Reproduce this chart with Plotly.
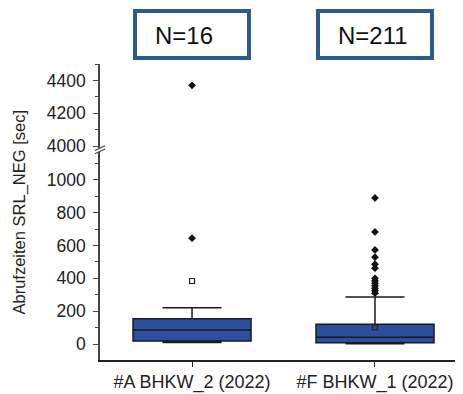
import plotly.graph_objects as go

categories = ["#A BHKW_2 (2022)", "#F BHKW_1 (2022)"]
counts = ["N=16", "N=211"]
q1 = [18, 8]
median = [85, 41]
q3 = [154, 120]
lower_whisker = [10, 2]
upper_whisker = [221, 287]
means = [384, 102]
outliers_a_low = [645]
outliers_a_high = [4370]
outliers_f = [890, 683, 573, 529, 486, 462, 400, 385, 370, 355, 340, 325, 310]

BLUE = "#2B4E9E"
FRAME = "#2F5B8A"
FONT = "Liberation Sans, Arial, sans-serif"

fig = go.Figure()
fig.add_trace(go.Box(
    x=categories, q1=q1, median=median, q3=q3,
    lowerfence=lower_whisker, upperfence=upper_whisker,
    fillcolor=BLUE, line=dict(color="#1a1a1a", width=1.5),
    whiskerwidth=0.5, width=0.645, boxpoints=False, showlegend=False,
    hoverinfo="skip",
))
fig.add_trace(go.Scatter(
    x=[categories[0]] * len(outliers_a_low) + [categories[1]] * len(outliers_f),
    y=outliers_a_low + outliers_f, mode="markers",
    marker=dict(symbol="diamond", size=6, color="#111"), showlegend=False,
))
fig.add_trace(go.Scatter(
    x=categories, y=means, mode="markers",
    marker=dict(symbol="square-open", size=5, color="#222", line=dict(width=1.2)),
    showlegend=False,
))
fig.add_trace(go.Scatter(
    x=[categories[0]] * len(outliers_a_high), y=outliers_a_high, mode="markers",
    marker=dict(symbol="diamond", size=6, color="#111"), yaxis="y2", showlegend=False,
))

for cat, txt in zip(categories, counts):
    fig.add_annotation(
        x=cat, xref="x", y=1.101, yref="paper", yanchor="middle",
        text=" ", showarrow=False, font=dict(size=24, color="#111", family=FONT),
        width=110, height=43, bordercolor=FRAME, borderwidth=4, borderpad=0,
        bgcolor="white",
    )
    fig.add_annotation(
        x=cat, xref="x", y=1.096, yref="paper", yanchor="middle", xanchor="left",
        xshift=-39, text=txt, showarrow=False,
        font=dict(size=24, color="#111", family=FONT),
    )

fig.add_annotation(
    x=-0.2245, xref="paper", y=0.5, yref="paper", xanchor="center", yanchor="middle",
    text="Abrufzeiten SRL_NEG [sec]",
    textangle=-90, showarrow=False, font=dict(size=16.5, color="#222", family=FONT),
)

# axis break marks
for dy in (0.0, 0.011):
    fig.add_shape(type="line", xref="paper", yref="paper",
                  x0=-0.014, x1=0.014, y0=0.697 + dy, y1=0.713 + dy,
                  line=dict(color="#444", width=1.2))

fig.update_layout(
    width=463, height=394,
    margin=dict(l=92, r=8, t=56, b=42),
    plot_bgcolor="white", paper_bgcolor="white",
    font=dict(family=FONT, size=17.5, color="#222"),
    xaxis=dict(
        type="category", range=[-0.503, 1.481], showline=True, linecolor="#222",
        linewidth=1.5, ticks="outside", ticklen=5, tickcolor="#222", showgrid=False,
        zeroline=False, tickfont=dict(size=18), automargin=False,
    ),
    yaxis=dict(
        domain=[0, 0.703], range=[-97, 1170], showline=True, linecolor="#444",
        linewidth=1.5, ticks="outside", ticklen=5, tickcolor="#444",
        tickvals=[0, 200, 400, 600, 800, 1000], showgrid=False, zeroline=False,
        minor=dict(dtick=100, ticks="outside", ticklen=3, tickcolor="#444"),
        tickfont=dict(size=17.5), automargin=False, ticklabelstandoff=4,
    ),
    yaxis2=dict(
        domain=[0.716, 1], range=[3988, 4500], anchor="x", showline=True,
        linecolor="#444", linewidth=1.5, ticks="outside", ticklen=5, tickcolor="#444",
        tickvals=[4000, 4200, 4400], showgrid=False, zeroline=False,
        minor=dict(dtick=100, ticks="outside", ticklen=3, tickcolor="#444"),
        tickfont=dict(size=17.5), automargin=False, ticklabelstandoff=4,
    ),
)

fig.write_html("out.html")
